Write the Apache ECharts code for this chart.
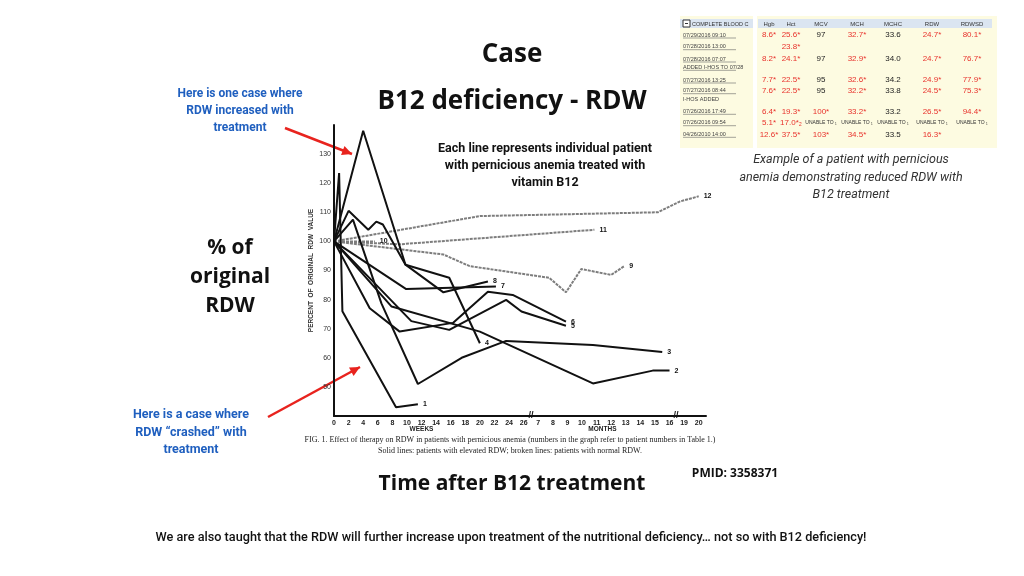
<!DOCTYPE html>
<html>
<head>
<meta charset="utf-8">
<script src="https://cdn.jsdelivr.net/npm/echarts@6/dist/echarts.min.js"></script>
<style>
html,body{margin:0;padding:0;background:#fff;}
#c{width:1024px;height:576px;}
</style>
</head>
<body>
<div id="c"></div>
<script>
// ---- data (x = position on the broken time axis, y = % of original RDW) ----
const xTickLabels = ['0','2','4','6','8','10','12','14','16','18','20','22','24','26',
  '7','8','9','10','11','12','13','14','15','16','19','20'];
const patientNames = ['1','2','3','4','5','6','7','8','9','10','11','12'];
const brokenLine = [false,false,false,false,false,false,false,false,true,true,true,true];
const p1 = [[0,100],[0.7,123.5],[1.15,76],[8.5,43],[11.5,44]];
const p2 = [[0,100],[7.9,77.6],[20,69],[35.5,51.2],[43.7,55.6],[46,55.6]];
const p3 = [[0,100],[2.6,107.5],[6.5,78.7],[11.5,51],[17.5,60],[23.6,65.8],[35.5,64.4],[45,62]];
const p4 = [[0,100],[4,138],[9.8,92],[15.8,87.5],[20,65]];
const p5 = [[0,100],[10.6,72.6],[15.8,69.6],[23.6,79.9],[25.7,75.9],[31.8,71]];
const p6 = [[0,100],[4.9,77],[9,69],[16.3,72],[21.1,82.7],[24.5,81.6],[31.8,72.4]];
const p7 = [[0,100],[9.9,83.6],[22.2,84.5]];
const p8 = [[0,100],[2,110.5],[4.7,104],[5.8,106.8],[6.7,105.8],[9.8,92],[15,82.5],[21.1,86.2]];
const p9 = [[0,100],[15,95.5],[18.6,91.5],[29.5,87.5],[31.8,82.5],[33.9,90.5],[38,88.5],[39.8,91.5]];
const p10 = [[0,100],[5.6,100]];
const p11 = [[0,100],[9,99],[35.7,104]];
const p12 = [[0,100],[20,108.7],[44.4,110],[47.4,113.7],[50,115.5]];
const patients = [p1,p2,p3,p4,p5,p6,p7,p8,p9,p10,p11,p12];

// lab table (text content)
const tableHeader = ['Hgb','Hct','MCV','MCH','MCHC','RDW','RDWSD'];
const tableDates = ['07/29/2016 09:10','07/28/2016 13:00','07/28/2016 07:07','ADDED I-HOS TO 07/28',
  '07/27/2016 13:25','07/27/2016 08:44','I-HOS ADDED','07/26/2016 17:49','07/26/2016 09:54','04/26/2010 14:00'];
const tableRows = [
  ['8.6*','25.6*','97','32.7*','33.6','24.7*','80.1*'],
  ['','23.8*','','','','',''],
  ['8.2*','24.1*','97','32.9*','34.0','24.7*','76.7*'],
  null,
  ['7.7*','22.5*','95','32.6*','34.2','24.9*','77.9*'],
  ['7.6*','22.5*','95','32.2*','33.8','24.5*','75.3*'],
  null,
  ['6.4*','19.3*','100*','33.2*','33.2','26.5*','94.4*'],
  ['5.1*','17.0*\u2082','UNABLE TO \u2081','UNABLE TO \u2081','UNABLE TO \u2081','UNABLE TO \u2081','UNABLE TO \u2081'],
  ['12.6*','37.5*','103*','34.5*','33.5','16.3*','']
];

// ---- layout ----
const chart = echarts.init(document.getElementById('c'));
const SANS = '"Open Sans", sans-serif';
const ROBO = 'Roboto, sans-serif';
const g = [];
function txt(x, y, s, st) {
  g.push({type:'text', x:x, y:y, style:Object.assign({text:s, fill:'#111', font:'bold 12px ' + SANS, textAlign:'center', textVerticalAlign:'middle'}, st||{})});
}
// titles
txt(512, 55, 'Case', {font:'bold 26px ' + SANS});
txt(512, 102, 'B12 deficiency - RDW', {font:'bold 26px ' + SANS});
['Each line represents individual patient','with pernicious anemia treated with','vitamin B12'].forEach((s,i)=>
  txt(545, 149 + i*17, s, {font:'bold 12.5px ' + ROBO}));
['Here is one case where','RDW increased with','treatment'].forEach((s,i)=>
  txt(240, 94 + i*17, s, {font:'bold 12px ' + ROBO, fill:'#1f5fbf'}));
['Here is a case where','RDW \u201ccrashed\u201d with','treatment'].forEach((s,i)=>
  txt(191, 415 + i*17.5, s, {font:'bold 12.5px ' + ROBO, fill:'#1f5fbf'}));
['% of','original','RDW'].forEach((s,i)=>
  txt(230, 248 + i*29, s, {font:'bold 21px ' + SANS}));
txt(512, 484, 'Time after B12 treatment', {font:'bold 21px ' + SANS});
txt(735, 474, 'PMID: 3358371', {font:'bold 12px ' + SANS});
txt(511, 538, 'We are also taught that the RDW will further increase upon treatment of the nutritional deficiency\u2026 not so with B12 deficiency!',
  {font:'500 12.7px ' + ROBO});
txt(510, 440, 'FIG. 1. Effect of therapy on RDW in patients with pernicious anemia (numbers in the graph refer to patient numbers in Table 1.)',
  {font:'8px "Liberation Serif", serif', fill:'#222'});
txt(510, 451, 'Solid lines: patients with elevated RDW; broken lines: patients with normal RDW.',
  {font:'8px "Liberation Serif", serif', fill:'#222'});
['Example of a patient with pernicious','anemia demonstrating reduced RDW with','B12 treatment'].forEach((s,i)=>
  txt(851, 160 + i*17.5, s, {font:'italic 12.5px ' + ROBO, fill:'#333'}));
// red arrows
function arrow(x1,y1,x2,y2){
  g.push({type:'line', shape:{x1:x1,y1:y1,x2:x2,y2:y2}, style:{stroke:'#e8231e', lineWidth:2.5}});
  const a = Math.atan2(y2-y1, x2-x1), L = 11, w = 0.45;
  g.push({type:'polygon', shape:{points:[[x2,y2],[x2-L*Math.cos(a-w),y2-L*Math.sin(a-w)],[x2-L*Math.cos(a+w),y2-L*Math.sin(a+w)]]}, style:{fill:'#e8231e'}});
}
arrow(285,128,352,154);
arrow(268,417,360,367);

// table
g.push({type:'rect', shape:{x:680,y:16,width:73,height:132}, style:{fill:'#fdfbe1'}});
g.push({type:'rect', shape:{x:757,y:16,width:240,height:132}, style:{fill:'#fdfbe1'}});
const colX = [769,791,821,857,893,932,972];
const colW = [18,20,36,36,36,36,36];
colX.forEach((cx,i)=>{
  g.push({type:'rect', shape:{x:cx-colW[i]/2-2,y:19,width:colW[i]+4,height:9}, style:{fill:'#dbe5f1'}});
  txt(cx, 24, tableHeader[i], {font:'6px Arial, sans-serif', fill:'#333'});
});
g.push({type:'rect', shape:{x:680,y:19,width:73,height:9}, style:{fill:'#dbe5f1'}});
g.push({type:'rect', shape:{x:683,y:20,width:7,height:7}, style:{fill:'#fff', stroke:'#333', lineWidth:1}});
g.push({type:'line', shape:{x1:685,y1:23.5,x2:688,y2:23.5}, style:{stroke:'#333', lineWidth:1}});
txt(692, 24, 'COMPLETE BLOOD C', {font:'5.5px Arial, sans-serif', fill:'#333', textAlign:'left'});
const rowY = [35,46.7,59,67.3,80,90.7,99.3,111.3,122.7,134.3];
tableDates.forEach((d,i)=>{
  const isDate = /\d\d\/\d\d/.test(d);
  txt(683, rowY[i], d, {font:'5.5px Arial, sans-serif', fill:'#444', textAlign:'left'});
  if (isDate) g.push({type:'line', shape:{x1:683,y1:rowY[i]+3,x2:736,y2:rowY[i]+3}, style:{stroke:'#666', lineWidth:0.6}});
  const r = tableRows[i];
  if (!r) return;
  r.forEach((v,j)=>{
    if (!v) return;
    const isUn = v.indexOf('UNABLE') >= 0;
    const col = isUn ? '#333' : (v.indexOf('*') >= 0 ? '#e8322c' : '#222');
    txt(colX[j], rowY[i], v, {font:(isUn?'5px':'8px') + ' Arial, sans-serif', fill:col});
  });
});

const series = patients.map((d,i)=>({
  type:'line', name:patientNames[i], data:d, symbol:'none', silent:true,
  lineStyle:{color: brokenLine[i] ? '#7d7d7d' : '#111', width: 2, type: brokenLine[i] ? [3,1] : 'solid'},
  endLabel:{show:true, formatter:patientNames[i], color:'#111', fontSize:7, fontWeight:'bold', distance:5, fontFamily:'Arial'},
  z: brokenLine[i] ? 2 : 3
}));

chart.setOption({
  animation:false,
  grid:{left:334, top:125, width:372, height:291, containLabel:false},
  xAxis:{type:'value', min:0, max:51, interval:2,
    axisLine:{lineStyle:{color:'#111', width:2}}, axisTick:{show:false}, splitLine:{show:false},
    axisLabel:{color:'#222', fontSize:7, fontWeight:'bold', margin:4, fontFamily:'Arial',
      formatter:(v)=>{const k=Math.round(v/2); return (Math.abs(v-2*k)<1e-6 && k<xTickLabels.length)?xTickLabels[k]:'';}}},
  yAxis:{type:'value', min:40, max:140, interval:10,
    name:'PERCENT  OF  ORIGINAL  RDW  VALUE', nameLocation:'middle', nameRotate:90, nameGap:19,
    nameTextStyle:{fontSize:6.5, fontWeight:'bold', color:'#333', fontFamily:'Arial'},
    axisLine:{lineStyle:{color:'#111', width:2}}, axisTick:{show:false}, splitLine:{show:false},
    axisLabel:{color:'#333', fontSize:7, margin:3, fontFamily:'Arial',
      formatter:(v)=> (v<=40||v>=140)?'':String(v)}},
  series:series,
  graphic:g
});

// axis decorations placed through the axis scale
const extra = [];
[[27,'//'],[46.9,'//']].forEach(([pos,s],i)=>{
  const p = chart.convertToPixel({gridIndex:0},[pos,40]);
  extra.push({type:'text', id:'brk'+i, x:p[0], y:p[1], style:{text:s, font:'bold 9px Arial', fill:'#111', textAlign:'center', textVerticalAlign:'middle'}});
});
[[12,'WEEKS'],[36.8,'MONTHS']].forEach(([pos,s],i)=>{
  const p = chart.convertToPixel({gridIndex:0},[pos,40]);
  extra.push({type:'text', id:'lab'+i, x:p[0], y:p[1]+13, style:{text:s, font:'bold 6.5px Arial', fill:'#222', textAlign:'center', textVerticalAlign:'middle'}});
});
chart.setOption({graphic: g.concat(extra)});
</script>
</body>
</html>
